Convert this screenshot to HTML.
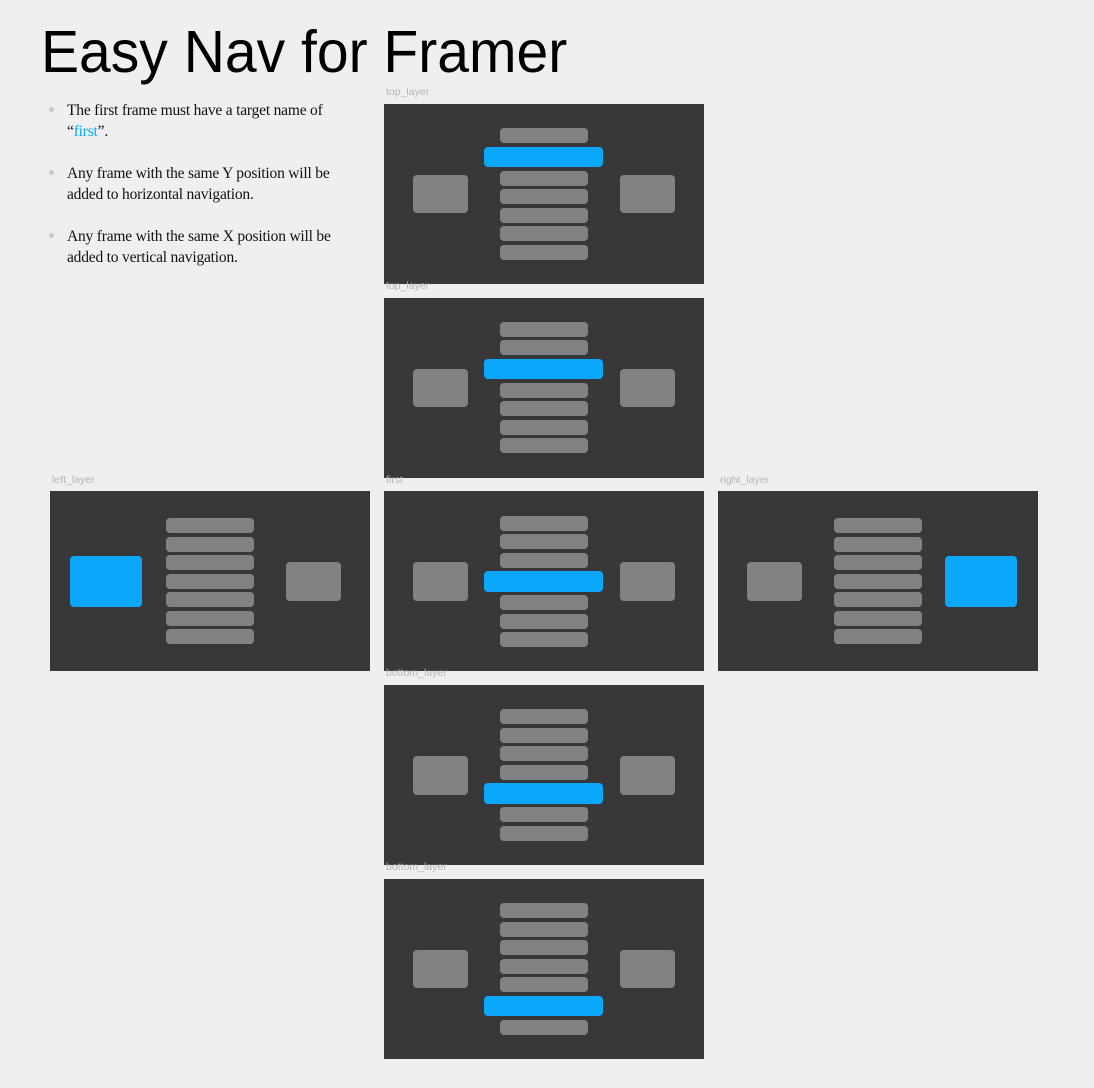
<!DOCTYPE html>
<html><head><meta charset="utf-8"><style>
html,body{margin:0;padding:0;background:#efefef;}
body{width:1094px;height:1088px;position:relative;overflow:hidden;font-family:"Liberation Sans",sans-serif;}
.t{position:absolute;left:41px;top:17px;font-size:59px;line-height:70px;color:#000;white-space:nowrap;transform-origin:0 0;transform:scaleX(0.967);}
.b{position:absolute;left:67px;font-family:"Liberation Serif",serif;font-size:15.5px;line-height:21px;color:#111;white-space:nowrap;letter-spacing:-0.2px;}
.d{position:absolute;left:49px;width:5px;height:5px;border-radius:50%;background:#c8c8c8;}
.f{position:absolute;width:320px;height:180px;background:#383838;}
.l{position:absolute;font-size:10.5px;color:#b5b5b5;line-height:12px;}
.g{position:absolute;background:#828282;border-radius:4px;}
.bl{position:absolute;background:#0aa7fb;border-radius:4px;}
</style></head><body>
<div class="t">Easy Nav for Framer</div>
<div class="d" style="top:107px"></div>
<div class="b" style="top:100px">The first frame must have a target name of<br>“<span style="color:#0aa7fb">first</span>”.</div>
<div class="d" style="top:170px"></div>
<div class="b" style="top:163px">Any frame with the same Y position will be<br>added to horizontal navigation.</div>
<div class="d" style="top:233px"></div>
<div class="b" style="top:226px">Any frame with the same X position will be<br>added to vertical navigation.</div>

<!-- frame 1 -->
<div class="l" style="left:386px;top:86px">top_layer</div>
<div class="f" style="left:384px;top:104px"></div>
<div class="g" style="left:413px;top:175px;width:55px;height:38px"></div>
<div class="g" style="left:620px;top:175px;width:55px;height:38px"></div>
<div class="g" style="left:500px;top:128px;width:88px;height:15px"></div>
<div class="bl" style="left:484px;top:147px;width:119px;height:20px"></div>
<div class="g" style="left:500px;top:171px;width:88px;height:15px"></div>
<div class="g" style="left:500px;top:189px;width:88px;height:15px"></div>
<div class="g" style="left:500px;top:208px;width:88px;height:15px"></div>
<div class="g" style="left:500px;top:226px;width:88px;height:15px"></div>
<div class="g" style="left:500px;top:245px;width:88px;height:15px"></div>

<!-- frame 2 -->
<div class="f" style="left:384px;top:298px"></div>
<div class="l" style="left:386px;top:280px">top_layer</div>
<div class="g" style="left:413px;top:369px;width:55px;height:38px"></div>
<div class="g" style="left:620px;top:369px;width:55px;height:38px"></div>
<div class="g" style="left:500px;top:322px;width:88px;height:15px"></div>
<div class="g" style="left:500px;top:340px;width:88px;height:15px"></div>
<div class="bl" style="left:484px;top:359px;width:119px;height:20px"></div>
<div class="g" style="left:500px;top:383px;width:88px;height:15px"></div>
<div class="g" style="left:500px;top:401px;width:88px;height:15px"></div>
<div class="g" style="left:500px;top:420px;width:88px;height:15px"></div>
<div class="g" style="left:500px;top:438px;width:88px;height:15px"></div>

<!-- middle -->
<div class="f" style="left:384px;top:491px"></div>
<div class="l" style="left:386px;top:474px">first</div>
<div class="g" style="left:413px;top:562px;width:55px;height:39px"></div>
<div class="g" style="left:620px;top:562px;width:55px;height:39px"></div>
<div class="g" style="left:500px;top:516px;width:88px;height:15px"></div>
<div class="g" style="left:500px;top:534px;width:88px;height:15px"></div>
<div class="g" style="left:500px;top:553px;width:88px;height:15px"></div>
<div class="bl" style="left:484px;top:571px;width:119px;height:21px"></div>
<div class="g" style="left:500px;top:595px;width:88px;height:15px"></div>
<div class="g" style="left:500px;top:614px;width:88px;height:15px"></div>
<div class="g" style="left:500px;top:632px;width:88px;height:15px"></div>

<!-- left -->
<div class="f" style="left:50px;top:491px"></div>
<div class="l" style="left:52px;top:474px">left_layer</div>
<div class="bl" style="left:70px;top:556px;width:72px;height:51px"></div>
<div class="g" style="left:286px;top:562px;width:55px;height:39px"></div>
<div class="g" style="left:166px;top:518px;width:88px;height:15px"></div>
<div class="g" style="left:166px;top:537px;width:88px;height:15px"></div>
<div class="g" style="left:166px;top:555px;width:88px;height:15px"></div>
<div class="g" style="left:166px;top:574px;width:88px;height:15px"></div>
<div class="g" style="left:166px;top:592px;width:88px;height:15px"></div>
<div class="g" style="left:166px;top:611px;width:88px;height:15px"></div>
<div class="g" style="left:166px;top:629px;width:88px;height:15px"></div>

<!-- right -->
<div class="f" style="left:718px;top:491px"></div>
<div class="l" style="left:720px;top:474px">right_layer</div>
<div class="g" style="left:747px;top:562px;width:55px;height:39px"></div>
<div class="bl" style="left:945px;top:556px;width:72px;height:51px"></div>
<div class="g" style="left:834px;top:518px;width:88px;height:15px"></div>
<div class="g" style="left:834px;top:537px;width:88px;height:15px"></div>
<div class="g" style="left:834px;top:555px;width:88px;height:15px"></div>
<div class="g" style="left:834px;top:574px;width:88px;height:15px"></div>
<div class="g" style="left:834px;top:592px;width:88px;height:15px"></div>
<div class="g" style="left:834px;top:611px;width:88px;height:15px"></div>
<div class="g" style="left:834px;top:629px;width:88px;height:15px"></div>

<!-- bottom 1 -->
<div class="f" style="left:384px;top:685px"></div>
<div class="l" style="left:386px;top:667px">bottom_layer</div>
<div class="g" style="left:413px;top:756px;width:55px;height:39px"></div>
<div class="g" style="left:620px;top:756px;width:55px;height:39px"></div>
<div class="g" style="left:500px;top:709px;width:88px;height:15px"></div>
<div class="g" style="left:500px;top:728px;width:88px;height:15px"></div>
<div class="g" style="left:500px;top:746px;width:88px;height:15px"></div>
<div class="g" style="left:500px;top:765px;width:88px;height:15px"></div>
<div class="bl" style="left:484px;top:783px;width:119px;height:21px"></div>
<div class="g" style="left:500px;top:807px;width:88px;height:15px"></div>
<div class="g" style="left:500px;top:826px;width:88px;height:15px"></div>

<!-- bottom 2 -->
<div class="f" style="left:384px;top:879px"></div>
<div class="l" style="left:386px;top:861px">bottom_layer</div>
<div class="g" style="left:413px;top:950px;width:55px;height:38px"></div>
<div class="g" style="left:620px;top:950px;width:55px;height:38px"></div>
<div class="g" style="left:500px;top:903px;width:88px;height:15px"></div>
<div class="g" style="left:500px;top:922px;width:88px;height:15px"></div>
<div class="g" style="left:500px;top:940px;width:88px;height:15px"></div>
<div class="g" style="left:500px;top:959px;width:88px;height:15px"></div>
<div class="g" style="left:500px;top:977px;width:88px;height:15px"></div>
<div class="bl" style="left:484px;top:996px;width:119px;height:20px"></div>
<div class="g" style="left:500px;top:1020px;width:88px;height:15px"></div>
</body></html>
